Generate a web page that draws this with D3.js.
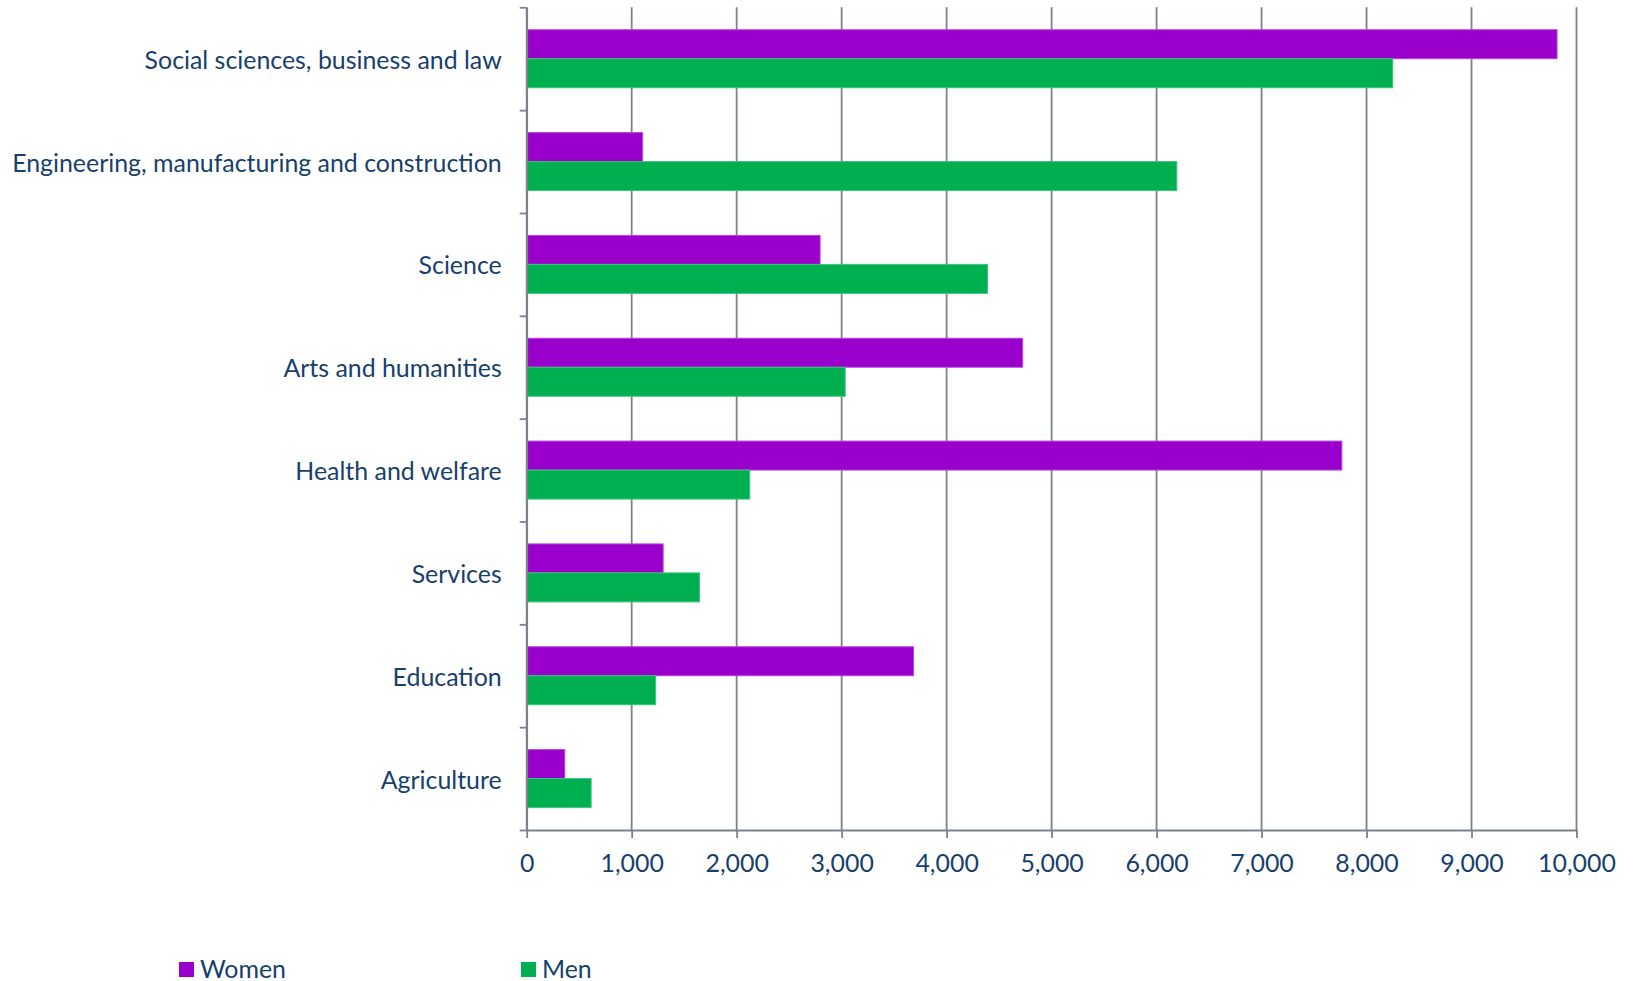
<!DOCTYPE html>
<html>
<head>
<meta charset="utf-8">
<script src="https://cdn.jsdelivr.net/npm/d3@7"></script>
<style>
  html, body { margin: 0; padding: 0; background: #ffffff; }
  svg { display: block; }
  text { font-family: Lato, "Open Sans", sans-serif; fill: #17406d; }
</style>
</head>
<body>
<svg id="chart" width="1633" height="981"></svg>
<script>
// Graduates by field of study and sex
const categories = [
  "Social sciences, business and law",
  "Engineering, manufacturing and construction",
  "Science",
  "Arts and humanities",
  "Health and welfare",
  "Services",
  "Education",
  "Agriculture"
];
const women = [9810, 1100, 2790, 4720, 7760, 1295, 3680, 358];
const men   = [8245, 6188, 4385, 3029, 2120, 1641, 1224, 609];
const seriesNames = ["Women", "Men"];
const xTickValues = [0, 1000, 2000, 3000, 4000, 5000, 6000, 7000, 8000, 9000, 10000];

const colors = { Women: "#9900cc", Men: "#00b050" };
const edgeColors = { Women: "#b847e0", Men: "#3cc47a" };
const gridColor = "#7d818c";
const fontSize = 24.9;

const svg = d3.select("#chart");
const margin = { left: 526.7, right: 1633 - 1576.5, top: 7.3, bottom: 981 - 830 };
const plotW = 1633 - margin.left - margin.right;
const plotH = 981 - margin.top - margin.bottom;

const g = svg.append("g").attr("transform", `translate(${margin.left},${margin.top})`);

const x = d3.scaleLinear().domain([0, 10000]).range([0, plotW]);
const y = d3.scaleBand().domain(categories).range([0, plotH])
  .paddingInner(0.436).paddingOuter(0.218);
const ySub = d3.scaleBand().domain(seriesNames).range([0, y.bandwidth()]);
// category boundaries for the left axis ticks
const yEdge = d3.scaleLinear().domain([0, categories.length]).range([0, plotH]);

// vertical gridlines
g.append("g").selectAll("line").data(xTickValues).join("line")
  .attr("x1", d => x(d)).attr("x2", d => x(d))
  .attr("y1", 0).attr("y2", plotH)
  .attr("stroke", gridColor).attr("stroke-width", 1.8);

// bars
const rows = categories.map((c, i) => ({ cat: c, values: [
  { key: "Women", value: women[i] },
  { key: "Men", value: men[i] }
]}));

const groups = g.append("g").selectAll("g").data(rows).join("g")
  .attr("transform", d => `translate(0,${y(d.cat)})`);
groups.selectAll("rect").data(d => d.values).join("rect")
  .attr("x", x(0) + 0.5)
  .attr("y", d => ySub(d.key))
  .attr("width", d => x(d.value) - x(0))
  .attr("height", ySub.bandwidth())
  .attr("fill", d => colors[d.key])
  .attr("stroke", d => edgeColors[d.key])
  .attr("stroke-width", 1);

// left axis: line with ticks at category boundaries
const yAxis = g.append("g")
  .call(d3.axisLeft(yEdge).tickValues(d3.range(categories.length + 1)).tickFormat("").tickSize(7).tickSizeOuter(0));
yAxis.select(".domain").attr("stroke", gridColor).attr("stroke-width", 1.8);
yAxis.selectAll(".tick line").attr("stroke", gridColor).attr("stroke-width", 1.8);

// bottom axis
const xAxis = g.append("g").attr("transform", `translate(0,${plotH})`)
  .call(d3.axisBottom(x).tickValues(xTickValues).tickFormat(d3.format(",")).tickSize(8).tickSizeOuter(0).tickPadding(16));
xAxis.select(".domain").attr("stroke", gridColor).attr("stroke-width", 1.8);
xAxis.selectAll(".tick line").attr("stroke", gridColor).attr("stroke-width", 1.8);
xAxis.selectAll(".tick text")
  .style("font-family", "Lato, 'Open Sans', sans-serif")
  .attr("font-size", fontSize).attr("fill", "#17406d");

// category labels
g.append("g").selectAll("text").data(categories).join("text")
  .attr("x", -25)
  .attr("y", d => y(d) + y.bandwidth() / 2)
  .attr("text-anchor", "end")
  .attr("dominant-baseline", "central")
  .attr("font-size", fontSize)
  .text(d => d);

// legend
const legend = svg.append("g").attr("transform", "translate(179,962)");
const legendX = { Women: 0, Men: 342 };
seriesNames.forEach(name => {
  const item = legend.append("g").attr("transform", `translate(${legendX[name]},0)`);
  item.append("rect").attr("width", 15).attr("height", 15).attr("fill", colors[name]);
  item.append("text").attr("x", 21).attr("y", 15.5)
    .attr("font-size", fontSize).text(name);
});
</script>
</body>
</html>
